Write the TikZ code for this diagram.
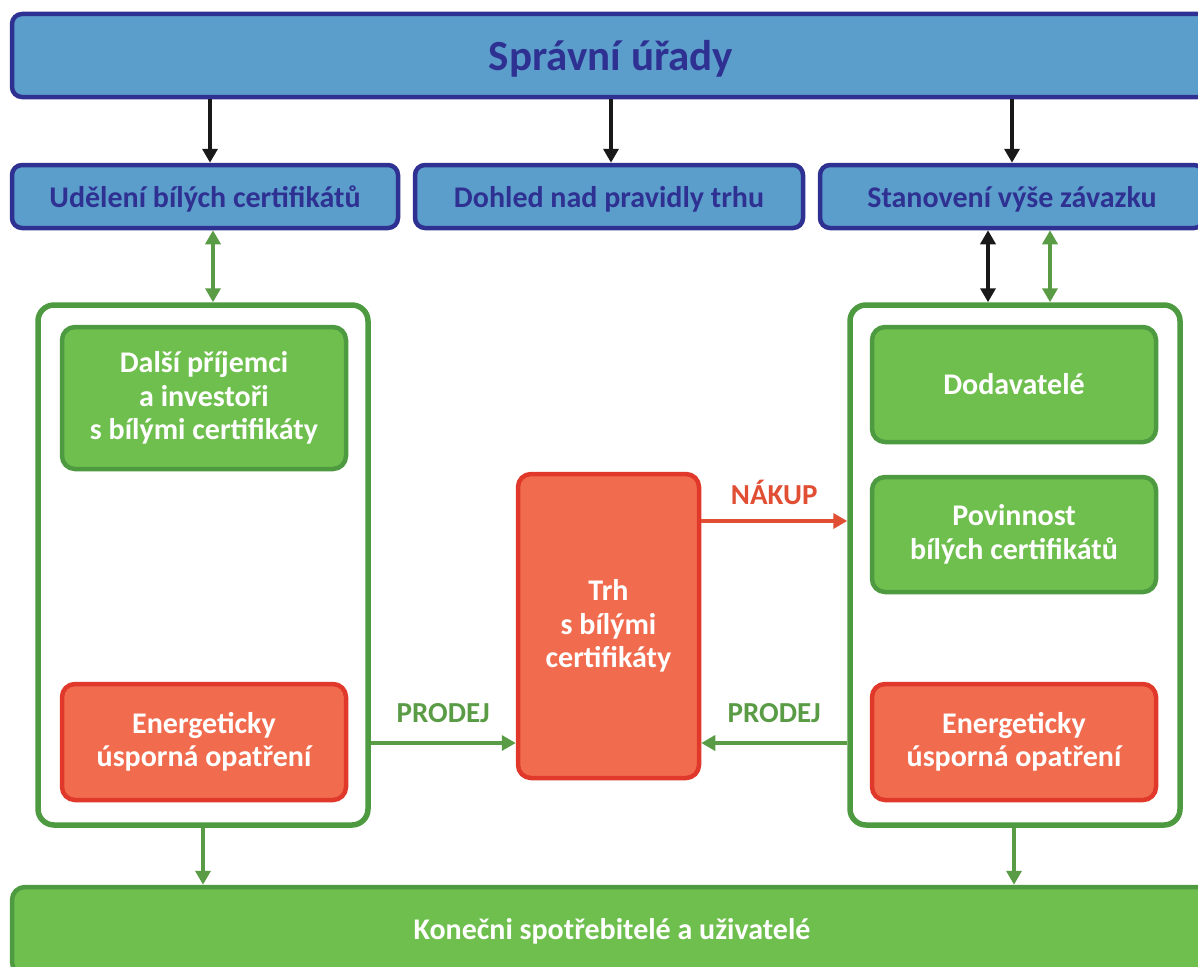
\documentclass[tikz,border=0pt]{standalone}
\usepackage{fontspec}
\setmainfont{Carlito}
\usetikzlibrary{arrows.meta}
\definecolor{navy}{HTML}{2E3192}
\definecolor{skyfill}{HTML}{5C9ECB}
\definecolor{leaf}{HTML}{6FBF4E}
\definecolor{leafdark}{HTML}{4D9A41}
\definecolor{tomato}{HTML}{F16C4F}
\definecolor{tomatodark}{HTML}{E0392B}
\definecolor{arrowgreen}{HTML}{5A9B45}
\definecolor{arrowred}{HTML}{E04E34}
\tikzset{
  x=1pt, y=-1pt,
  govbox/.style={draw=navy, fill=skyfill, line width=4.5pt, rounded corners=10pt,
    text=navy, font=\bfseries\fontsize{30}{34}\selectfont, inner sep=0pt, text depth=0pt},
  groupbox/.style={draw=leafdark, fill=white, line width=5.5pt, rounded corners=16pt, inner sep=0pt},
  greenbox/.style={draw=leafdark, fill=leaf, line width=4.5pt, rounded corners=13pt,
    text=white, align=center, font=\bfseries\fontsize{30}{33.5}\selectfont, inner sep=0pt},
  redbox/.style={draw=tomatodark, fill=tomato, line width=4.5pt, rounded corners=13pt,
    text=white, align=center, font=\bfseries\fontsize{30}{33.5}\selectfont, inner sep=0pt},
  tip/.style={-{Triangle[length=14pt,width=15pt]}},
  dtip/.style={{Triangle[length=14pt,width=15pt]}-{Triangle[length=14pt,width=15pt]}},
  blackarrow/.style={draw=black!90, line width=4.5pt},
  greenarrow/.style={draw=arrowgreen, line width=4pt},
  redarrow/.style={draw=arrowred, line width=4pt},
  flowlabel/.style={font=\bfseries\fontsize{29}{32}\selectfont, inner sep=0pt},
}
\begin{document}
\begin{tikzpicture}
\useasboundingbox (0,0) rectangle (1198,966);
\clip (0,0) rectangle (1198,966);

% authorities
\node[govbox, minimum width=1198pt, minimum height=83pt, font=\bfseries\fontsize{43}{48}\selectfont]
  (urady) at (611,55.5) {Správní úřady};
\node[govbox, minimum width=386pt, minimum height=63pt] (udeleni) at (205,196.5) {Udělení bílých certifikátů};
\node[govbox, minimum width=388pt, minimum height=63pt] (dohled) at (609,196.5) {Dohled nad pravidly trhu};
\node[govbox, minimum width=384pt, minimum height=63pt] (stanoveni) at (1012,196.5) {Stanovení výše závazku};

% participant groups
\node[groupbox, minimum width=330pt, minimum height=520pt] (leftgrp) at (203,565) {};
\node[groupbox, minimum width=330pt, minimum height=520pt] (rightgrp) at (1015,565) {};

\node[greenbox, minimum width=284pt, minimum height=142pt] (prijemci) at (204,398)
  {Další příjemci\\a investoři\\s bílými certifikáty};
\node[redbox, minimum width=284pt, minimum height=116pt] (opatreniL) at (204,742)
  {Energeticky\\úsporná opatření};

\node[greenbox, minimum width=284pt, minimum height=115pt] (dodavatele) at (1014,384.5) {Dodavatelé};
\node[greenbox, minimum width=284pt, minimum height=115pt] (povinnost) at (1014,534.5)
  {Povinnost\\bílých certifikátů};
\node[redbox, minimum width=284pt, minimum height=116pt] (opatreniR) at (1014,742)
  {Energeticky\\úsporná opatření};

% market
\node[redbox, minimum width=181pt, minimum height=304pt] (trh) at (608.5,626)
  {Trh\\s bílými\\certifikáty};

% consumers
\node[greenbox, minimum width=1200pt, minimum height=88pt] (konecni) at (612,931)
  {Konečni spotřebitelé a uživatelé};

% connector anchors
\coordinate (xa) at (210,0);
\coordinate (xb) at (611,0);
\coordinate (xc) at (1012,0);
\coordinate (xd) at (213,0);
\coordinate (xe) at (988,0);
\coordinate (xf) at (1050,0);
\coordinate (xg) at (203,0);
\coordinate (xh) at (1014,0);
\coordinate (ybuy) at (0,521);
\coordinate (ysell) at (0,743);

% supervision arrows
\draw[blackarrow, tip] (xa |- urady.south) -- (xa |- udeleni.north);
\draw[blackarrow, tip] (xb |- urady.south) -- (xb |- dohled.north);
\draw[blackarrow, tip] (xc |- urady.south) -- (xc |- stanoveni.north);

\draw[greenarrow, dtip] (xd |- udeleni.south) -- (xd |- leftgrp.north);
\draw[blackarrow, dtip] (xe |- stanoveni.south) -- (xe |- rightgrp.north);
\draw[greenarrow, dtip] (xf |- stanoveni.south) -- (xf |- rightgrp.north);

% trading flows
\draw[redarrow, tip] (trh.east |- ybuy) -- node[flowlabel, text=arrowred, above=14pt] (nakup) {NÁKUP} (rightgrp.west |- ybuy);
\draw[greenarrow, tip] (leftgrp.east |- ysell) -- node[flowlabel, text=arrowgreen, above=18pt] (prodejL) {PRODEJ} (trh.west |- ysell);
\draw[greenarrow, tip] (rightgrp.west |- ysell) -- node[flowlabel, text=arrowgreen, above=18pt] (prodejR) {PRODEJ} (trh.east |- ysell);

% delivery to consumers
\draw[greenarrow, tip] (xg |- leftgrp.south) -- (xg |- konecni.north);
\draw[greenarrow, tip] (xh |- rightgrp.south) -- (xh |- konecni.north);
\end{tikzpicture}
\end{document}
